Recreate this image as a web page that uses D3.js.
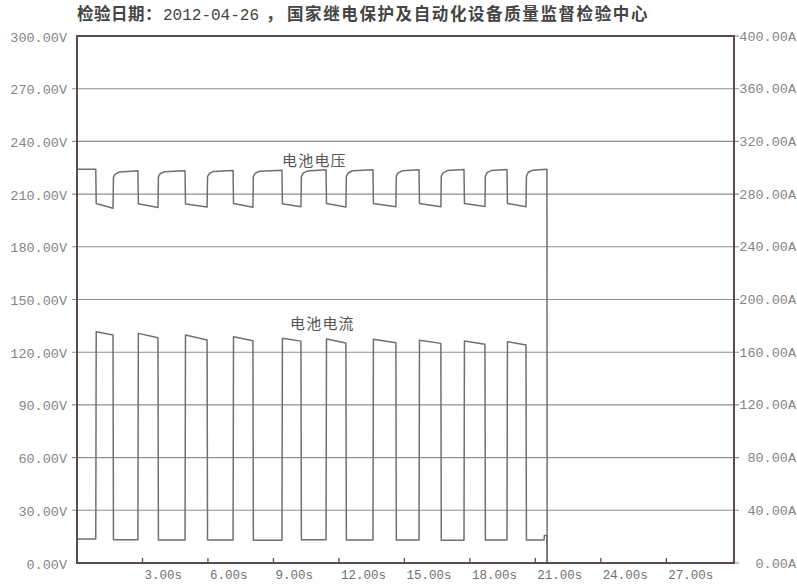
<!DOCTYPE html>
<html>
<head>
<meta charset="utf-8">
<script src="https://cdn.jsdelivr.net/npm/d3@7"></script>
<style>
  html, body { margin: 0; padding: 0; background: #ffffff; }
  svg { display: block; }
</style>
</head>
<body>
<svg id="chart" width="797" height="587"></svg>
<script>
// Axis ticks
const timeTicks = [3, 6, 9, 12, 15, 18, 21, 24, 27];
const voltTicks = [0, 30, 60, 90, 120, 150, 180, 210, 240, 270, 300];
const ampTicks = [0, 40, 80, 120, 160, 200, 240, 280, 320, 360, 400];

// Charge pulse timing (s)
const pulseStart = [0.86, 2.79, 4.95, 7.15, 9.39, 11.41, 13.56, 15.67, 17.73, 19.70];
const pulseEnd   = [1.65, 3.71, 5.96, 8.06, 10.26, 12.32, 14.61, 16.67, 18.69, 20.57];
const tailStepTime = 21.40;
const tripTime = 21.53;

// Battery current (A)
const ampPeakStart = [175.5, 174.3, 173.0, 171.7, 170.5, 170.0, 169.8, 169.0, 168.5, 168.0];
const ampPeakEnd   = [173.0, 171.0, 169.2, 168.7, 168.4, 167.0, 167.2, 166.7, 166.0, 165.5];
const ampBase      = [18.2, 17.6, 17.4, 17.5, 17.3, 17.6, 17.4, 17.5, 17.3, 17.4, 17.5];
const ampTail = 20.8;

// Battery voltage (V)
const voltHigh     = [224.2, 223.3, 223.3, 223.5, 223.6, 223.8, 223.8, 223.9, 224.0, 224.0, 224.1];
const voltDipStart = [204.6, 204.5, 204.4, 204.6, 204.5, 204.7, 204.6, 204.7, 204.6, 204.7];
const voltDipEnd   = [202.0, 202.4, 202.6, 202.5, 202.8, 202.7, 202.8, 202.8, 202.9, 202.8];
const voltKnee     = [219.6, 219.8, 219.9, 220.0, 220.0, 220.1, 220.2, 220.2, 220.3, 220.3];
const voltKneeMid  = [221.4, 221.6, 221.7, 221.8, 221.9, 222.0, 222.1, 222.1, 222.2, 222.3];
const voltSettle   = [222.6, 222.7, 222.9, 223.0, 223.1, 223.3, 223.3, 223.4, 223.5, 223.6];

const W = 797, H = 587;
const svg = d3.select("#chart");
svg.append("rect").attr("width", W).attr("height", H).attr("fill", "#ffffff");

const plotLeft = 77, plotRight = 734, plotTop = 36, plotBottom = 563;
const x = d3.scaleLinear().domain([0, 30.1]).range([plotLeft, plotRight]);
const yV = d3.scaleLinear().domain([0, 300]).range([plotBottom, plotTop]);
const yA = d3.scaleLinear().domain([0, 400]).range([plotBottom, plotTop]);

const monoFont = "'Liberation Mono', 'DejaVu Sans Mono', monospace";
const cjkFont = "'Noto Sans CJK SC', 'Noto Sans', sans-serif";

// Horizontal grid with short outer ticks on both sides
const grid = svg.append("g");
voltTicks.filter(v => v > 0 && v < 300).forEach(v => {
  grid.append("line")
    .attr("x1", plotLeft - 5).attr("x2", plotRight + 5)
    .attr("y1", yV(v)).attr("y2", yV(v))
    .attr("stroke", "#8f8f8f").attr("stroke-width", 1.1);
});
[0, 300].forEach(v => {
  grid.append("line").attr("x1", plotRight).attr("x2", plotRight + 5)
    .attr("y1", yV(v)).attr("y2", yV(v))
    .attr("stroke", "#8f8f8f").attr("stroke-width", 1.1);
});

// Waveforms
const voltPts = [[0, voltHigh[0]]];
const ampPts = [[0, ampBase[0]]];
pulseStart.forEach((s, i) => {
  const e = pulseEnd[i];
  voltPts.push([s, voltHigh[i]], [s + 0.02, voltDipStart[i]], [e, voltDipEnd[i]],
               [e + 0.02, voltKnee[i]], [e + 0.1, voltKneeMid[i]], [e + 0.3, voltSettle[i]]);
  ampPts.push([s, ampBase[i]], [s + 0.02, ampPeakStart[i]], [e, ampPeakEnd[i]],
              [e + 0.02, ampBase[i + 1]]);
});
voltPts.push([tripTime, voltHigh[voltHigh.length - 1]], [tripTime + 0.01, 0], [30.1, 0]);
ampPts.push([tailStepTime, ampBase[ampBase.length - 1]], [tailStepTime + 0.01, ampTail],
            [tripTime, ampTail], [tripTime + 0.01, 0], [30.1, 0]);

svg.append("path")
  .datum(voltPts)
  .attr("fill", "none").attr("stroke", "#707070").attr("stroke-width", 1.5)
  .attr("stroke-linejoin", "round")
  .attr("d", d3.line().x(d => x(d[0])).y(d => yV(d[1])));

svg.append("path")
  .datum(ampPts)
  .attr("fill", "none").attr("stroke", "#707070").attr("stroke-width", 1.5)
  .attr("stroke-linejoin", "round")
  .attr("d", d3.line().x(d => x(d[0])).y(d => yA(d[1])));

// Plot frame
svg.append("rect")
  .attr("x", plotLeft).attr("y", plotTop)
  .attr("width", plotRight - plotLeft).attr("height", plotBottom - plotTop)
  .attr("fill", "none").attr("stroke", "#5a4c4e").attr("stroke-width", 2);

// Time axis ticks (inside, pointing up) and labels
const xAxis = svg.append("g");
timeTicks.forEach(t => {
  xAxis.append("line")
    .attr("x1", x(t)).attr("x2", x(t))
    .attr("y1", plotBottom).attr("y2", plotBottom - 5)
    .attr("stroke", "#5a4c4e").attr("stroke-width", 1.3);
  xAxis.append("text")
    .attr("x", x(t) + 2).attr("y", plotBottom + 13)
    .attr("dominant-baseline", "middle")
    .attr("font-family", monoFont).attr("font-size", 12.5)
    .attr("fill", "#707070")
    .text(t.toFixed(2) + "s");
});

// Voltage axis labels (left)
voltTicks.forEach(v => {
  svg.append("text")
    .attr("x", 67).attr("y", yV(v) + 2)
    .attr("text-anchor", "end").attr("dominant-baseline", "middle")
    .attr("font-family", monoFont).attr("font-size", 13.5)
    .attr("fill", "#858585")
    .text(v.toFixed(2) + "V");
});

// Current axis labels (right)
ampTicks.forEach(a => {
  svg.append("text")
    .attr("x", 796).attr("y", yA(a) + 1)
    .attr("text-anchor", "end").attr("dominant-baseline", "middle")
    .attr("font-family", monoFont).attr("font-size", 13.5)
    .attr("fill", "#858585")
    .text(a.toFixed(2) + "A");
});

// Series names
svg.append("text")
  .attr("x", 282).attr("y", 162)
  .attr("dominant-baseline", "middle")
  .attr("font-family", cjkFont).attr("font-size", 15).attr("letter-spacing", 1.2)
  .attr("fill", "#555555")
  .text("电池电压");
svg.append("text")
  .attr("x", 290).attr("y", 325)
  .attr("dominant-baseline", "middle")
  .attr("font-family", cjkFont).attr("font-size", 15).attr("letter-spacing", 1.2)
  .attr("fill", "#555555")
  .text("电池电流");

// Header line
const title = svg.append("text")
  .attr("y", 16).attr("dominant-baseline", "middle")
  .attr("fill", "#444444");
title.append("tspan").attr("x", 77)
  .attr("font-family", cjkFont).attr("font-size", 16.5).attr("font-weight", "bold")
  .attr("letter-spacing", 0.5)
  .text("检验日期：");
title.append("tspan").attr("x", 163)
  .attr("font-family", monoFont).attr("font-size", 16)
  .text("2012-04-26");
title.append("tspan").attr("x", 266)
  .attr("font-family", cjkFont).attr("font-size", 16.5).attr("font-weight", "bold")
  .text("，");
title.append("tspan").attr("x", 287)
  .attr("font-family", cjkFont).attr("font-size", 16.5).attr("font-weight", "bold")
  .attr("letter-spacing", 1.6)
  .text("国家继电保护及自动化设备质量监督检验中心");
</script>
</body>
</html>
